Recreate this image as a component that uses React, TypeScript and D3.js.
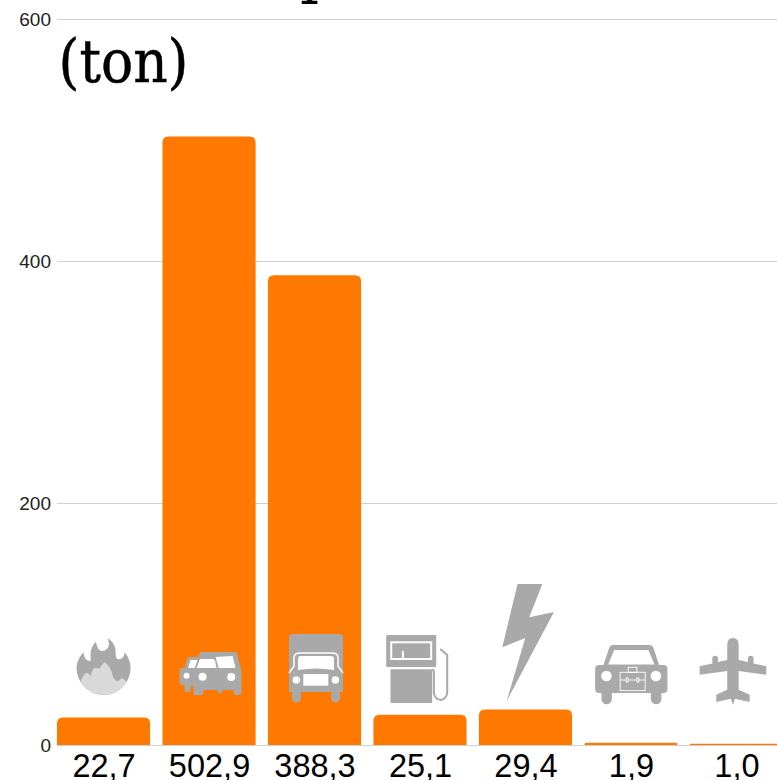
import React, { useEffect, useRef } from 'react';
import * as d3 from 'd3';

const categories = ['fire', 'cars', 'truck', 'fuel', 'power', 'business', 'plane'];
const values = [22.7, 502.9, 388.3, 25.1, 29.4, 1.9, 1.0];
const yTicks = [0, 200, 400, 600];

const width = 777;
const height = 780;
const GREY = '#a9a9a9';
const ORANGE = '#ff7800';

// icon shapes are in their own local px, origin at band centre / axis baseline
const drawIcon = (g: any, name: string) => {
    const shape = (tag: string, attrs: Record<string, any>) => {
        const el = g.append(tag);
        Object.keys(attrs).forEach(k => el.attr(k, attrs[k]));
        return el;
    };

    if (name === 'fire') {
        g.attr('transform', 'translate(0,-78)');
        shape('path', { fill: GREY, d: 'M-20 -15 C-25 -9 -27 -4 -27 1 A27 27 0 0 0 27 1 C27 -5 25 -10 21 -15 C21 -9 17 -7 14 -8 C11 -9 13 -17 11 -21 C9 -25 7 -27 4 -29 C6 -24 6 -19 2 -17 C-1 -15 -5 -16 -6 -20 C-7 -22 -7 -24 -8 -25 C-11 -22 -13 -18 -13 -13 C-13 -11 -13 -8 -13 -6 C-17 -6 -20 -9 -20 -15 Z' });
        shape('path', { fill: '#d9d9d9', d: 'M-23 15 C-21 11 -20 7 -17 6 C-15 6 -14 8 -13 9 C-12 6 -11 1 -8 1 C-6 1 -5 1 -4 2 C-3 -1 -1 -3 1 -5 C5 -2 8 3 9 8 C10 12 12 14 14 14 C16 14 17 12 18 11 C20 12 22 14 23 15 A27 27 0 0 1 -23 15 Z' });
    } else if (name === 'cars') {
        g.attr('transform', 'translate(-29.5,-93)');
        shape('path', { fill: GREY, d: 'M0 19 Q0 16 3 16 L5 16 L8 6 Q8.5 5 10 5 L19 5 L19.5 2 Q20 0 22 0 L55 0 Q57 0 58 3 L61 16 Q62 17 62 20 L62 40 Q62 43 59 43 L57 43 Q54 43 54 40 L54 38 L43 38 L42 41 L39 41 L37 38 L24 38 L24 41 Q24 43 21 43 L17 43 Q14 43 14 41 L14 34 L11 34 L11 38 Q11 40 8 40 Q5 40 5 38 L5 33 L2 33 Q0 33 0 31 Z' });
        shape('path', { fill: '#fff', d: 'M8.5 16 L11 8 L18 8 L15 16 Z M17 16 L20 8 Q20.5 7 22 7 L33 7 Q35 7 35.5 9 L37 16 Z M36 5 L53 4 L56 16 L39 16 Z' });
        [[7, 23.7, 3], [23, 24.7, 4], [51.7, 25, 4]].forEach(c => shape('circle', { cx: c[0], cy: c[1], r: c[2], fill: '#fff' }));
    } else if (name === 'truck') {
        g.attr('transform', 'translate(-25.5,-111)');
        shape('path', { fill: GREY, d: 'M0 4 Q0 0 4 0 L50 0 Q54 0 54 4 L54 58 L51 58 L51 64 A4.5 4.5 0 0 1 42 64 L42 58 L12 58 L12 64 A4.5 4.5 0 0 1 3 64 L3 58 L0 58 Z' });
        shape('path', { fill: 'none', stroke: '#fff', 'stroke-width': 1.5, d: 'M0 39 L5 32 L5 24 Q5 19 11 19 L43 19 Q49 19 49 24 L49 32 L54 39' });
        shape('path', { fill: '#fff', d: 'M9 36 L9 25 Q9 22 12 22 L42 22 Q45 22 45 25 L45 36 Q27 33 9 36 Z' });
        shape('rect', { x: 14.3, y: 40, width: 25, height: 11.7, fill: '#fff' });
        [[7.3, 46], [46.3, 46]].forEach(c => shape('circle', { cx: c[0], cy: c[1], r: 3.7, fill: '#fff' }));
    } else if (name === 'fuel') {
        g.attr('transform', 'translate(-33.8,-110)');
        shape('rect', { x: 0, y: 0, width: 50, height: 32, rx: 1, fill: GREY });
        shape('rect', { x: 5, y: 7.3, width: 40, height: 16.7, fill: 'none', stroke: '#fff', 'stroke-width': 2 });
        shape('line', { x1: 16.7, x2: 16.7, y1: 16, y2: 23, stroke: '#fff', 'stroke-width': 2 });
        shape('rect', { x: 4.3, y: 34.3, width: 41.7, height: 33.7, rx: 1, fill: GREY });
        shape('path', { fill: 'none', stroke: GREY, 'stroke-width': 2, d: 'M54 14 L61 20 L61 57 A6.6 8 0 0 1 47.7 57 L47.7 38 Q47.7 35 46 34.5' });
    } else if (name === 'power') {
        g.attr('transform', 'translate(-23.2,-161)');
        shape('path', { fill: GREY, d: 'M15.3 0 L40 0 L27 33.3 L51.7 28 L4.3 117.3 L23 54 L0 63.3 Z' });
    } else if (name === 'business') {
        g.attr('transform', 'translate(-35.8,-100)');
        shape('path', { fill: GREY, d: 'M4 20 L8.3 20 L14 3 Q15 0 18 0 L54.3 0 Q57.3 0 58.3 3 L64 20 L68.3 20 Q72.3 20 72.3 24 L72.3 44 Q72.3 48 68.3 48 L66.3 48 L66.3 54 A5.3 5.3 0 0 1 55.7 54 L55.7 48 L16.7 48 L16.7 54 A5.2 5.2 0 0 1 6.3 54 L6.3 48 L4 48 Q0 48 0 44 L0 24 Q0 20 4 20 Z' });
        shape('path', { fill: '#fff', d: 'M19 5 L53.3 5 L59.3 19.5 L13 19.5 Z' });
        [[11.3, 31], [60.7, 31]].forEach(c => shape('circle', { cx: c[0], cy: c[1], r: 5.3, fill: '#fff' }));
        const line = { fill: 'none', stroke: '#fff', 'stroke-width': 0.9 };
        shape('rect', { x: 25, y: 27.3, width: 25, height: 18.3, ...line });
        shape('rect', { x: 33, y: 22.3, width: 8.7, height: 5, ...line });
        shape('path', { ...line, d: 'M25 35 L31 35 M33 35 L41.7 35 M43.7 35 L50 35' });
        shape('rect', { x: 31, y: 33, width: 2, height: 4, ...line });
        shape('rect', { x: 41.7, y: 33, width: 2, height: 4, ...line });
    } else if (name === 'plane') {
        g.attr('transform', 'translate(-3.5,-107)');
        shape('path', { fill: GREY, d: 'M0 0 Q5.7 0 5.7 7 L5.7 22 L15 24 L15 20.5 A2.8 2.8 0 0 1 20.6 20.5 L20.6 25.5 L33.3 28.3 L33.3 36.7 L5.7 33 L5.7 51.7 L16.7 56.7 L16.7 64 L2 60.7 L0 66.7 L-2 60.7 L-16.7 64 L-16.7 56.7 L-5.7 51.7 L-5.7 33 L-33.3 36.7 L-33.3 28.3 L-20.6 25.5 L-20.6 20.5 A2.8 2.8 0 0 1 -15 20.5 L-15 24 L-5.7 22 L-5.7 7 Q-5.7 0 0 0 Z' });
    }
};

const App = () => {
    const svgRef = useRef(null);

    useEffect(() => {
        const svg = d3.select(svgRef.current);
        svg.selectAll('*').remove();

        const y = d3.scaleLinear().domain([0, 600]).range([745, 19]);
        const x = d3.scaleBand().domain(categories).range([57, 783]).paddingInner(0.117).paddingOuter(0);
        const fmt = d3.formatLocale({ decimal: ',', thousands: '.', grouping: [3], currency: ['', ''] }).format('.1f');

        // gridlines and y labels
        const yAxis = svg.append('g')
            .attr('transform', 'translate(57,0)')
            .call(d3.axisLeft(y).tickValues(yTicks).tickSize(-(width - 57)).tickPadding(6).tickFormat(d3.format('d')));
        yAxis.select('.domain').remove();
        yAxis.selectAll('line').attr('stroke', '#d0d0d0');
        yAxis.selectAll('text')
            .attr('fill', '#222')
            .style('font-family', '"Liberation Sans"')
            .style('font-size', '19px');

        // bars, rounded on top only
        const barPath = (d: number, i: number) => {
            const p = d3.path();
            const x0 = x(categories[i]);
            const x1 = x0 + x.bandwidth();
            const top = y(d);
            const r = Math.min(6, y(0) - top);
            p.moveTo(x0, y(0));
            p.lineTo(x0, top + r);
            p.quadraticCurveTo(x0, top, x0 + r, top);
            p.lineTo(x1 - r, top);
            p.quadraticCurveTo(x1, top, x1, top + r);
            p.lineTo(x1, y(0));
            p.closePath();
            return p.toString();
        };
        svg.append('g').selectAll('path')
            .data(values)
            .enter().append('path')
            .attr('d', barPath)
            .attr('fill', ORANGE);

        // icons
        categories.forEach(name => {
            const g = svg.append('g').attr('transform', `translate(${x(name) + x.bandwidth() / 2},${y(0)})`);
            drawIcon(g.append('g'), name);
        });

        // value labels under the bars
        const xAxis = svg.append('g')
            .attr('transform', `translate(0.5,${y(0)})`)
            .call(d3.axisBottom(x).tickSize(0).tickFormat((d: string) => fmt(values[categories.indexOf(d)])));
        xAxis.select('.domain').remove();
        xAxis.selectAll('text')
            .attr('y', 32)
            .attr('dy', 0)
            .attr('fill', '#000')
            .style('font-family', '"Liberation Sans"')
            .style('font-size', '32.5px');

        // title, first line runs off the top of the picture
        const title = svg.append('g')
            .style('font-family', '"DejaVu Serif"')
            .style('font-size', '60px')
            .attr('fill', '#000');
        title.append('text').attr('x', 60).attr('y', -8).attr('textLength', 85).attr('lengthAdjust', 'spacingAndGlyphs').text('CO');
        title.append('text').attr('x', 149).attr('y', -1).style('font-size', '40px').text('₂');
        title.append('text').attr('x', 300).attr('y', -8).text('p');
        title.append('text')
            .attr('x', 58.5)
            .attr('y', 82)
            .attr('textLength', 130)
            .attr('lengthAdjust', 'spacingAndGlyphs')
            .attr('stroke', '#000')
            .attr('stroke-width', 0.5)
            .text('(ton)');
    }, []);

    return (
        <svg ref={svgRef} width={width} height={height} style={{ position: 'fixed', left: 0, top: 0, display: 'block', background: '#fff' }}></svg>
    );
};

export default App;
